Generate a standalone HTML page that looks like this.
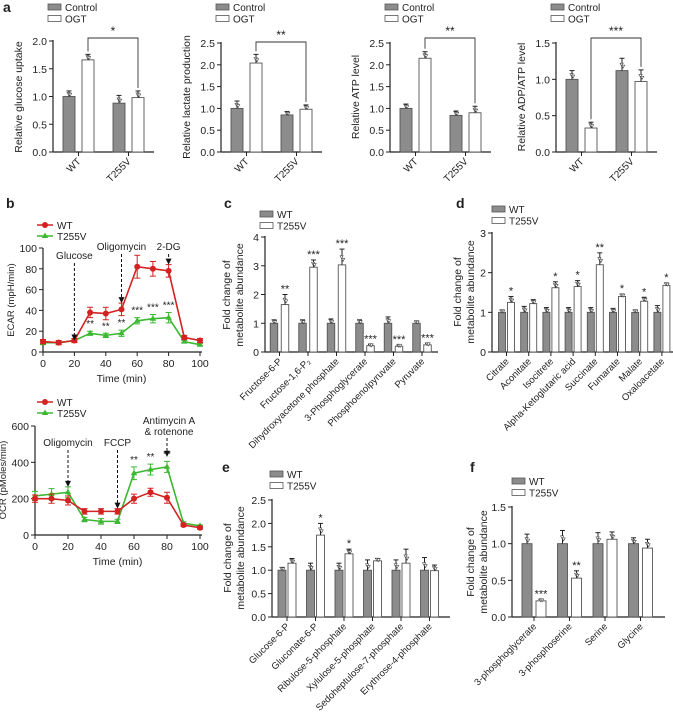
<!DOCTYPE html>
<html><head><meta charset="utf-8">
<style>
body{margin:0;background:#fff;}
svg{display:block;font-family:"Liberation Sans",Arial,sans-serif;}
text{fill:#222;}
</style></head>
<body>
<svg id="fig" width="673" height="712" viewBox="0 0 673 712" xmlns="http://www.w3.org/2000/svg"></svg>
<script>
// ---------- DATA ----------
const aCategories = ["WT","T255V"];
const a1Control = [1.0, 0.88], a1OGT = [1.66, 0.98], a1CtrlErr = [0.1, 0.14], a1OGTErr = [0.1, 0.12];
const a2Control = [1.0, 0.85], a2OGT = [2.04, 0.98], a2CtrlErr = [0.17, 0.08], a2OGTErr = [0.2, 0.1];
const a3Control = [1.0, 0.84], a3OGT = [2.15, 0.9], a3CtrlErr = [0.1, 0.1], a3OGTErr = [0.15, 0.15];
const a4Control = [1.0, 1.12], a4OGT = [0.33, 0.97], a4CtrlErr = [0.12, 0.17], a4OGTErr = [0.08, 0.16];
const a1Ticks = [0, 0.5, 1.0, 1.5, 2.0];
const a2Ticks = [0, 0.5, 1.0, 1.5, 2.0, 2.5];
const a4Ticks = [0, 0.5, 1.0, 1.5];
const aStars = ["*","**","**","***"];

const timeVals = [0,10,20,30,40,50,60,70,80,90,100];
const timeTicks = [0,20,40,60,80,100];
const ecarWT = [10,9,11,38,37,41,82,80,78,14,11];
const ecarWTErr = [2,2,2,5,6,6,11,7,6,2,2];
const ecarMut = [9,9,11,18,16,18,30,32,33,10,7];
const ecarMutErr = [2,1,1,2,2,3,3,4,5,1,1];
const ecarTicks = [0,20,40,60,80,100];
const ecarStars = ["","","","**","**","**","***","***","***","",""];
const ocrWT = [200,200,190,130,130,130,200,235,205,55,40];
const ocrWTErr = [20,25,25,15,15,15,25,22,30,8,8];
const ocrMut = [215,225,235,85,75,75,340,360,375,65,50];
const ocrMutErr = [25,30,30,12,15,12,35,30,30,8,6];
const ocrTicks = [0,200,400,600];
const ocrStars = ["","","","","","","**","**","**","",""];

const cCategories = ["Fructose-6-P","Fructose-1,6-P\u2082","Dihydroxyacetone phosphate","3-Phosphoglycerate","Phosphoenolpyruvate","Pyruvate"];
const cWT = [1,1,1,1,1,1], cWTErr = [0.12,0.12,0.15,0.12,0.22,0.08];
const cMut = [1.65,2.95,3.03,0.22,0.2,0.25], cMutErr = [0.35,0.25,0.55,0.04,0.04,0.05];
const cStars = ["**","***","***","***","***","***"];
const cTicks = [0,1,2,3,4];

const dCategories = ["Citrate","Aconitate","Isocitrete","Alpha-Ketoglutaric acid","Succinate","Fumarate","Malate","Oxaloacetate"];
const dWT = [1,1,1,1,1,1,1,1], dWTErr = [0.06,0.15,0.12,0.12,0.12,0.1,0.06,0.17];
const dMut = [1.25,1.22,1.62,1.65,2.2,1.4,1.28,1.68], dMutErr = [0.15,0.1,0.15,0.15,0.3,0.06,0.1,0.06];
const dStars = ["*","","*","*","**","*","*","*"];
const dTicks = [0,1,2,3];

const eCategories = ["Glucose-6-P","Gluconate-6-P","Ribulose-5-phosphate","Xylulose-5-phosphate","Sedoheptulose-7-phosphate","Erythrose-4-phosphate"];
const eWT = [1,1,1,1,1,1], eWTErr = [0.06,0.15,0.15,0.22,0.22,0.27];
const eMut = [1.15,1.75,1.35,1.2,1.15,0.99], eMutErr = [0.1,0.25,0.1,0.05,0.3,0.12];
const eStars = ["","*","*","","",""];
const eTicks = [0,0.5,1.0,1.5,2.0,2.5];

const fCategories = ["3-phosphoglycerate","3-phosphoserine","Serine","Glycine"];
const fWT = [1,1,1,1], fWTErr = [0.13,0.18,0.15,0.08];
const fMut = [0.22,0.53,1.06,0.94], fMutErr = [0.02,0.1,0.1,0.12];
const fStars = ["***","**","",""];
const fTicks = [0,0.5,1.0,1.5];

// ---------- HELPERS ----------
const svg = document.getElementById('fig');
const NS = 'http://www.w3.org/2000/svg';
function mk(tag, attrs, parent){
  const e = document.createElementNS(NS, tag);
  for (const k in attrs) e.setAttribute(k, attrs[k]);
  (parent||svg).appendChild(e);
  return e;
}
function txt(s, x, y, size, anchor, parent, extra){
  const t = mk('text', Object.assign({x:x, y:y, 'font-size':size, 'text-anchor':anchor||'start'}, extra||{}), parent);
  t.textContent = s;
  return t;
}
function fmt(v, dec){ return dec ? v.toFixed(dec) : String(v); }

function legend(x, y, names, isLine){
  const g = mk('g', {});
  
  
  names.forEach((n, i) => {
    const yy = y + i*11.5;
    const sw = mk('rect', {x:x, y:yy-4, width:13, height:6, fill: i===0?'#8c8c8c':'#fff', stroke:'#555', 'stroke-width':0.8}, g);
    
    
    const t = txt(n, x+17, yy+3, 10, 'start', g);
    
    
  });
}

function yTitle(lines, x, cy, size){
  lines.forEach((l, i) => {
    const t = txt(l, 0, 0, size, 'middle', svg, {transform:'translate(' + (x + i*13) + ',' + cy + ') rotate(-90)'});
    
    
  });
}

function barPanel(p){
  const g = mk('g', {});
  
  
  const ys = v => p.y0 - v / p.ymax * (p.y0 - p.y1);
  const cx = i => p.c0 + i * p.step;
  // axes
  mk('line', {x1:p.ax, y1:p.y1-1, x2:p.ax, y2:p.y0, stroke:'#222', 'stroke-width':1.2}, g);
  mk('line', {x1:p.ax, y1:p.y0, x2:p.axEnd, y2:p.y0, stroke:'#222', 'stroke-width':1.2}, g);
  p.ticks.forEach(t => {
    const y = ys(t);
    mk('line', {x1:p.ax-4, y1:y, x2:p.ax, y2:y, stroke:'#222', 'stroke-width':1}, g);
    const l = txt(fmt(t, p.dec), p.ax-6, y+4, 10.5, 'end', g);
    
    
  });
  p.cats.forEach((c, i) => {
    const x = cx(i);
    mk('line', {x1:x, y1:p.y0, x2:x, y2:p.y0+4, stroke:'#222', 'stroke-width':1}, g);
    const l = txt(c, 0, 0, p.catSize||9.5, 'end', g, {transform:'translate(' + (x+3) + ',' + (p.y0+10) + ') rotate(-45)'});
    
    
    [[p.s1, p.e1, '#8c8c8c', -1], [p.s2, p.e2, '#fff', 1]].forEach((s, k) => {
      const v = s[0][i], e = s[1][i];
      const bx = x + s[3]*p.off - p.bw/2;
      const top = ys(v);
      const r = mk('rect', {x:bx, y:top, width:p.bw, height:p.y0-top, fill:s[2], stroke:'#555', 'stroke-width':0.9}, g);
      
      
      const eTop = ys(v + e);
      mk('line', {x1:bx+p.bw/2, y1:top, x2:bx+p.bw/2, y2:eTop, stroke:'#222', 'stroke-width':1}, g);
      mk('line', {x1:bx+p.bw/2-2.5, y1:eTop, x2:bx+p.bw/2+2.5, y2:eTop, stroke:'#222', 'stroke-width':1}, g);
      // inverted triangle dots
      [-0.6, 0.4].forEach((d, j) => {
        const ty = ys(v + d*e*(j?1:-1)*0.8);
        mk('path', {d:'M' + (bx+p.bw/2 - 2 + j*1.5) + ' ' + (ty-1.5) + 'h3.2l-1.6 3z', fill:'#fff', stroke:'#444', 'stroke-width':0.6}, g);
      });
      if (k === 1 && p.stars && p.stars[i]) {
        const st = txt(p.stars[i], bx+p.bw/2, eTop-2, 11, 'middle', g);
        
        
      }
    });
  });
  return {ys:ys, cx:cx, g:g};
}

function aPanel(ax, ticks, ymax, dec, ctrl, ogt, ce, oe, star, brY, title, idx){
  const P = barPanel({name:'panel-a' + idx, ax:ax, axEnd:ax+101, y0:152, y1: ymax===2?41:43, ymax:ymax, ticks:ticks, dec:1,
    cats:aCategories, c0:ax+25.5, step:50, off:9.5, bw:12, s1:ctrl, e1:ce, s2:ogt, e2:oe, catSize:10});
  legend(ax-5, 8, ["Control","OGT"]);
  const x1 = P.cx(0)+9.5, x2 = P.cx(1)+9.5;
  const l1 = P.ys(ogt[0]+oe[0]) - 3, l2 = P.ys(ogt[1]+oe[1]) - 3;
  const br = mk('path', {d:'M'+x1+' '+l1+'V'+brY+'H'+x2+'V'+l2, fill:'none', stroke:'#333', 'stroke-width':0.9});
  
  
  const s = txt(star, (x1+x2)/2, brY-3, 12, 'middle');
  
  
  yTitle([title], ax-31, 97, 10.5);
}

function linePanel(p){
  const g = mk('g', {});
  
  
  const xs = t => p.x0 + t/100*(p.x1-p.x0);
  const ys = v => p.y0 - v/p.ymax*(p.y0-p.y1);
  mk('line', {x1:p.x0, y1:p.y1, x2:p.x0, y2:p.y0, stroke:'#222', 'stroke-width':1.2}, g);
  mk('line', {x1:p.x0, y1:p.y0, x2:p.x1+2, y2:p.y0, stroke:'#222', 'stroke-width':1.2}, g);
  p.yt.forEach(t => {
    mk('line', {x1:p.x0-4, y1:ys(t), x2:p.x0, y2:ys(t), stroke:'#222'}, g);
    const l = txt(String(t), p.x0-6, ys(t)+4, 10.5, 'end', g);
    
    
  });
  timeTicks.forEach(t => {
    mk('line', {x1:xs(t), y1:p.y0, x2:xs(t), y2:p.y0+4, stroke:'#222'}, g);
    const l = txt(String(t), xs(t), p.y0+15, 10.5, 'middle', g);
    
    
  });
  const xt = txt('Time (min)', (p.x0+p.x1)/2, p.y0+30, 10.5, 'middle', g);
  
  
  [[p.mut, p.mutE, '#3cb832', 'tri'], [p.wt, p.wtE, '#d42222', 'circ']].forEach(s => {
    const pts = timeVals.map((t, i) => xs(t) + ',' + ys(s[0][i])).join(' ');
    const pl = mk('polyline', {points:pts, fill:'none', stroke:s[2], 'stroke-width':1.6}, g);
    
    
    timeVals.forEach((t, i) => {
      const x = xs(t), y = ys(s[0][i]), e1 = ys(s[0][i]+s[1][i]), e2 = ys(s[0][i]-s[1][i]);
      mk('path', {d:'M'+x+' '+e1+'V'+e2+'M'+(x-3)+' '+e1+'h6M'+(x-3)+' '+e2+'h6', stroke:s[2], 'stroke-width':1}, g);
      let m;
      if (s[3]==='circ') m = mk('circle', {cx:x, cy:y, r:3, fill:s[2]}, g);
      else m = mk('path', {d:'M'+x+' '+(y-3.5)+'l3.2 5.5h-6.4z', fill:s[2]}, g);
      
      
    });
  });
  p.stars.forEach((s, i) => {
    if (!s) return;
    const hi = Math.max(p.mut[i]+p.mutE[i], p.starRef[i]);
    const st = txt(s, xs(timeVals[i]), ys(hi)-4, 10, 'middle', g);
    
    
  });
  // legend
  [['WT','#d42222','circ'],['T255V','#3cb832','tri']].forEach((l, i) => {
    const yy = p.legY + i*11;
    mk('line', {x1:p.legX, y1:yy, x2:p.legX+16, y2:yy, stroke:l[1], 'stroke-width':1.5}, g);
    if (l[2]==='circ') mk('circle', {cx:p.legX+8, cy:yy, r:3, fill:l[1]}, g);
    else mk('path', {d:'M'+(p.legX+8)+' '+(yy-3.5)+'l3.2 5.5h-6.4z', fill:l[1]}, g);
    const t = txt(l[0], p.legX+20, yy+4, 10, 'start', g);
    
    
  });
  p.arrows.forEach(a => {
    const x = xs(a.t);
    a.lines.forEach((ln, k) => {
      const t = txt(ln, x + (a.dx||0), a.ly + k*11, 10, 'middle', g);
      
      
    });
    const yEnd = ys(a.to);
    mk('line', {x1:x, y1:a.from, x2:x, y2:yEnd-5, stroke:'#111', 'stroke-width':1, 'stroke-dasharray':'3,2'}, g);
    mk('path', {d:'M'+(x-3)+' '+(yEnd-6)+'h6l-3 6z', fill:'#111'}, g);
  });
  return {xs:xs, ys:ys};
}

// ---------- PANEL LABELS ----------
[['a',3,12],['b',6,208],['c',224,208],['d',456,208],['e',222,472],['f',470,472]].forEach(l => {
  const t = txt(l[0], l[1], l[2], 14, 'start', svg, {'font-weight':'bold'});
  
  
});

// ---------- PANEL A ----------
aPanel(53, a1Ticks, 2.0, 1, a1Control, a1OGT, a1CtrlErr, a1OGTErr, aStars[0], 38, 'Relative glucose uptake', 1);
aPanel(221, a2Ticks, 2.5, 1, a2Control, a2OGT, a2CtrlErr, a2OGTErr, aStars[1], 42, 'Relative lactate production', 2);
aPanel(390, a2Ticks, 2.5, 1, a3Control, a3OGT, a3CtrlErr, a3OGTErr, aStars[2], 38, 'Relative ATP level', 3);
aPanel(556, a4Ticks, 1.5, 1, a4Control, a4OGT, a4CtrlErr, a4OGTErr, aStars[3], 38, 'Relative ADP/ATP level', 4);

// ---------- PANEL B ----------
linePanel({name:'panel-b-ecar', x0:43, x1:200, y0:352, y1:248, ymax:100, yt:ecarTicks,
  wt:ecarWT, wtE:ecarWTErr, mut:ecarMut, mutE:ecarMutErr, stars:ecarStars, starRef:ecarMut.map((v,i)=>v+ecarMutErr[i]),
  legX:37, legY:225,
  arrows:[{t:20, lines:['Glucose'], ly:259, from:263, to:ecarWT[2]}, {t:50, lines:['Oligomycin'], ly:250, from:254, to:ecarWT[5]+ecarWTErr[5]}, {t:80, lines:['2-DG'], ly:250, from:254, to:ecarWT[8]+ecarWTErr[8]}]});
yTitle(['ECAR (mpH/min)'], 14, 300, 9.5);

linePanel({name:'panel-b-ocr', x0:35, x1:200, y0:535, y1:426, ymax:600, yt:ocrTicks,
  wt:ocrWT, wtE:ocrWTErr, mut:ocrMut, mutE:ocrMutErr, stars:ocrStars, starRef:ocrMut.map((v,i)=>v+ocrMutErr[i]),
  legX:37, legY:402,
  arrows:[{t:20, lines:['Oligomycin'], ly:446, from:450, to:ocrMut[2]+ocrMutErr[2]}, {t:50, lines:['FCCP'], ly:446, from:450, to:ocrWT[5]+ocrWTErr[5]}, {t:80, lines:['Antimycin A','& rotenone'], ly:424, from:438, to:ocrMut[8]+ocrMutErr[8]+25, dx:2}]});
yTitle(['OCR (pMoles/min)'], 6, 480, 9.5);

// ---------- PANEL C ----------
barPanel({name:'panel-c', ax:265, axEnd:438, y0:352, y1:237, ymax:4, ticks:cTicks, dec:0,
  cats:cCategories, c0:279.5, step:28.5, off:5.5, bw:7.5, s1:cWT, e1:cWTErr, s2:cMut, e2:cMutErr, stars:cStars});
legend(260, 215, ["WT","T255V"]);
yTitle(['Fold change of','metabolite abundance'], 230, 295, 10.5);

// ---------- PANEL D ----------
barPanel({name:'panel-d', ax:492, axEnd:673, y0:352, y1:233, ymax:3, ticks:dTicks, dec:0,
  cats:dCategories, c0:506.5, step:22.2, off:4.5, bw:7, s1:dWT, e1:dWTErr, s2:dMut, e2:dMutErr, stars:dStars});
legend(492, 210, ["WT","T255V"]);
yTitle(['Fold change of','metabolite abundance'], 461, 292, 10.5);

// ---------- PANEL E ----------
barPanel({name:'panel-e', ax:272, axEnd:450, y0:617, y1:500, ymax:2.5, ticks:eTicks, dec:1,
  cats:eCategories, c0:287, step:28.5, off:5, bw:8, s1:eWT, e1:eWTErr, s2:eMut, e2:eMutErr, stars:eStars});
legend(270, 475, ["WT","T255V"]);
yTitle(['Fold change of','metabolite abundance'], 231, 558, 10.5);

// ---------- PANEL F ----------
barPanel({name:'panel-f', ax:512, axEnd:665, y0:617, y1:507, ymax:1.5, ticks:fTicks, dec:1,
  cats:fCategories, c0:534, step:35.5, off:7, bw:10, s1:fWT, e1:fWTErr, s2:fMut, e2:fMutErr, stars:fStars});
legend(512, 482, ["WT","T255V"]);
yTitle(['Fold change of','metabolite abundance'], 474, 562, 10.5);
</script>
</body></html>
